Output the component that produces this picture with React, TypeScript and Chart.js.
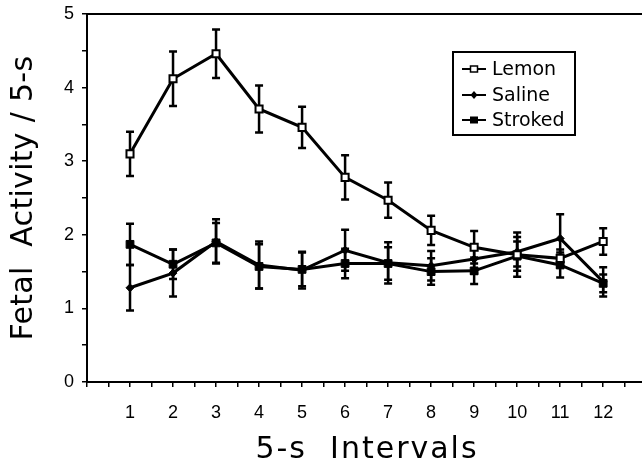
import React, { useEffect, useRef } from 'react';
import { Chart, registerables } from 'chart.js';

Chart.register(...registerables);

// ---- Data ----
const intervals = [1, 2, 3, 4, 5, 6, 7, 8, 9, 10, 11, 12];
const xTickLabels = ['1', '2', '3', '4', '5', '6', '7', '8', '9', '10', '11', '12'];
const yTickLabels = ['0', '1', '2', '3', '4', '5'];

const xTitle = '5-s  Intervals';
const yTitle = 'Fetal  Activity / 5-s';

const seriesNames = ['Lemon', 'Saline', 'Stroked'];

const lemon = [3.1, 4.12, 4.46, 3.71, 3.46, 2.78, 2.47, 2.06, 1.83, 1.73, 1.68, 1.91];
const lemonErr = [0.3, 0.37, 0.33, 0.32, 0.28, 0.3, 0.24, 0.2, 0.22, 0.3, 0.12, 0.18];

const saline = [1.28, 1.48, 1.91, 1.59, 1.52, 1.79, 1.62, 1.58, 1.67, 1.77, 1.95, 1.36];
const salineErr = [0.31, 0.32, 0.3, 0.32, 0.25, 0.28, 0.28, 0.2, 0.2, 0.2, 0.33, 0.2];

const stroked = [1.87, 1.6, 1.89, 1.57, 1.53, 1.61, 1.61, 1.5, 1.51, 1.71, 1.59, 1.34];
const strokedErr = [0.28, 0.2, 0.27, 0.3, 0.23, 0.2, 0.22, 0.18, 0.18, 0.2, 0.17, 0.12];

const errors = [lemonErr, salineErr, strokedErr];

const TITLE_FONT = "'DejaVu Sans', sans-serif";
const TICK_FONT = "'Liberation Sans', Arial, sans-serif";

const errorBarPlugin = {
  id: 'errorBars',
  beforeDatasetsDraw(chart: any) {
    const { ctx, scales } = chart;
    const xs = scales.x;
    const ys = scales.y;
    ctx.save();
    ctx.strokeStyle = '#000';
    ctx.lineWidth = 2.5;
    chart.data.datasets.forEach((ds: any, i: number) => {
      const errs = errors[i];
      ds.data.forEach((p: any, j: number) => {
        const x = xs.getPixelForValue(p.x);
        const yt = ys.getPixelForValue(p.y + errs[j]);
        const yb = ys.getPixelForValue(p.y - errs[j]);
        const cw = 4;
        ctx.beginPath();
        ctx.moveTo(x, yt);
        ctx.lineTo(x, yb);
        ctx.moveTo(x - cw, yt);
        ctx.lineTo(x + cw, yt);
        ctx.moveTo(x - cw, yb);
        ctx.lineTo(x + cw, yb);
        ctx.stroke();
      });
    });
    ctx.restore();
  },
};

const framePlugin = {
  id: 'frameAndLegend',
  afterDraw(chart: any) {
    const { ctx, chartArea, width } = chart;
    ctx.save();
    // top frame line and continuation of the x axis to the edge of the picture
    ctx.strokeStyle = '#000';
    ctx.lineWidth = 2;
    ctx.beginPath();
    ctx.moveTo(chartArea.left, chartArea.top);
    ctx.lineTo(width, chartArea.top);
    ctx.moveTo(chartArea.right - 1, chartArea.bottom);
    ctx.lineTo(width, chartArea.bottom);
    ctx.stroke();

    // axis titles
    ctx.fillStyle = '#000';
    ctx.font = `30px ${TITLE_FONT}`;
    ctx.textAlign = 'center';
    ctx.textBaseline = 'alphabetic';
    (ctx as any).letterSpacing = '2px';
    ctx.fillText(xTitle, 367, 458);
    (ctx as any).letterSpacing = '0.3px';
    ctx.save();
    ctx.translate(32, (chartArea.top + chartArea.bottom) / 2);
    ctx.rotate(-Math.PI / 2);
    ctx.fillText(yTitle, 0, 0);
    ctx.restore();
    (ctx as any).letterSpacing = '0px';

    // legend box
    const bx = 453, by = 52, bw = 122, bh = 83;
    ctx.lineWidth = 2;
    ctx.strokeRect(bx, by, bw, bh);
    const rows = [69, 95, 120];
    ctx.font = `19px ${TITLE_FONT}`;
    ctx.textAlign = 'left';
    ctx.textBaseline = 'middle';
    chart.data.datasets.forEach((ds: any, i: number) => {
      const y = rows[i];
      ctx.lineWidth = 2;
      ctx.beginPath();
      ctx.moveTo(462, y);
      ctx.lineTo(486, y);
      ctx.stroke();
      const cx = 474;
      if (i === 0) {
        ctx.fillStyle = '#fff';
        ctx.fillRect(cx - 3.5, y - 3, 7, 6);
        ctx.lineWidth = 1.5;
        ctx.strokeRect(cx - 3.5, y - 3, 7, 6);
        ctx.fillStyle = '#000';
      } else if (i === 1) {
        ctx.beginPath();
        ctx.moveTo(cx, y - 4);
        ctx.lineTo(cx + 3.5, y);
        ctx.lineTo(cx, y + 4);
        ctx.lineTo(cx - 3.5, y);
        ctx.closePath();
        ctx.fill();
      } else {
        ctx.fillRect(cx - 4, y - 3.5, 8, 7);
      }
      ctx.fillText(ds.label, 492, y + 1);
    });
    ctx.restore();
  },
};

export default function App() {
  const ref = useRef<HTMLCanvasElement | null>(null);

  useEffect(() => {
    if (!ref.current) return;
    const mk = (vals: number[]) => vals.map((v, i) => ({ x: intervals[i], y: v }));
    const chart = new Chart(ref.current, {
      type: 'line',
      data: {
        datasets: [
          {
            label: seriesNames[0],
            data: mk(lemon),
            borderColor: '#000',
            borderWidth: 3,
            pointStyle: 'rect',
            pointRadius: 5,
            pointBackgroundColor: '#fff',
            pointBorderColor: '#000',
            pointBorderWidth: 2,
            tension: 0,
          },
          {
            label: seriesNames[1],
            data: mk(saline),
            borderColor: '#000',
            borderWidth: 3,
            pointStyle: 'rectRot',
            pointRadius: 4,
            pointBackgroundColor: '#000',
            pointBorderColor: '#000',
            pointBorderWidth: 1,
            tension: 0,
          },
          {
            label: seriesNames[2],
            data: mk(stroked),
            borderColor: '#000',
            borderWidth: 3,
            pointStyle: 'rect',
            pointRadius: 5.5,
            pointBackgroundColor: '#000',
            pointBorderColor: '#000',
            pointBorderWidth: 1,
            tension: 0,
          },
        ],
      },
      options: {
        animation: false,
        responsive: false,
        devicePixelRatio: 1,
        layout: { padding: { top: 14, right: 10, left: 0, bottom: 0 } },
        plugins: {
          legend: { display: false },
          tooltip: { enabled: false },
        },
        scales: {
          x: {
            type: 'linear',
            min: 0,
            max: 12.67,
            afterFit: (s: any) => {
              s.height = 83;
              s.paddingLeft = 0;
              s.paddingRight = 0;
            },
            border: { display: true, color: '#000', width: 2 },
            grid: { display: true, drawOnChartArea: false, color: '#000', lineWidth: 1.5, tickLength: 5 },
            ticks: {
              stepSize: 0.5,
              includeBounds: false,
              autoSkip: false,
              maxRotation: 0,
              padding: 15,
              color: '#000',
              font: { family: TICK_FONT, size: 18 },
              callback: (v: any) => {
                const idx = intervals.indexOf(Number(v));
                return idx >= 0 ? xTickLabels[idx] : '';
              },
            },
            title: { display: false },
          },
          y: {
            min: 0,
            max: 5,
            afterFit: (s: any) => {
              s.width = 87;
              s.paddingTop = 0;
              s.paddingBottom = 0;
            },
            border: { display: true, color: '#000', width: 2 },
            grid: { display: true, drawOnChartArea: false, color: '#000', lineWidth: 1.5, tickLength: 5 },
            ticks: {
              stepSize: 0.5,
              autoSkip: false,
              padding: 8,
              color: '#000',
              font: { family: TICK_FONT, size: 18 },
              callback: (v: any) => {
                const n = Number(v);
                return Number.isInteger(n) ? yTickLabels[n] : '';
              },
            },
            title: { display: false },
          },
        },
      },
      plugins: [errorBarPlugin, framePlugin],
    } as any);
    return () => chart.destroy();
  }, []);

  return (
    <div style={{ position: 'fixed', left: 0, top: 0, width: 642, height: 465, background: '#fff' }}>
      <canvas ref={ref} width={642} height={465} style={{ display: 'block' }} />
    </div>
  );
}
